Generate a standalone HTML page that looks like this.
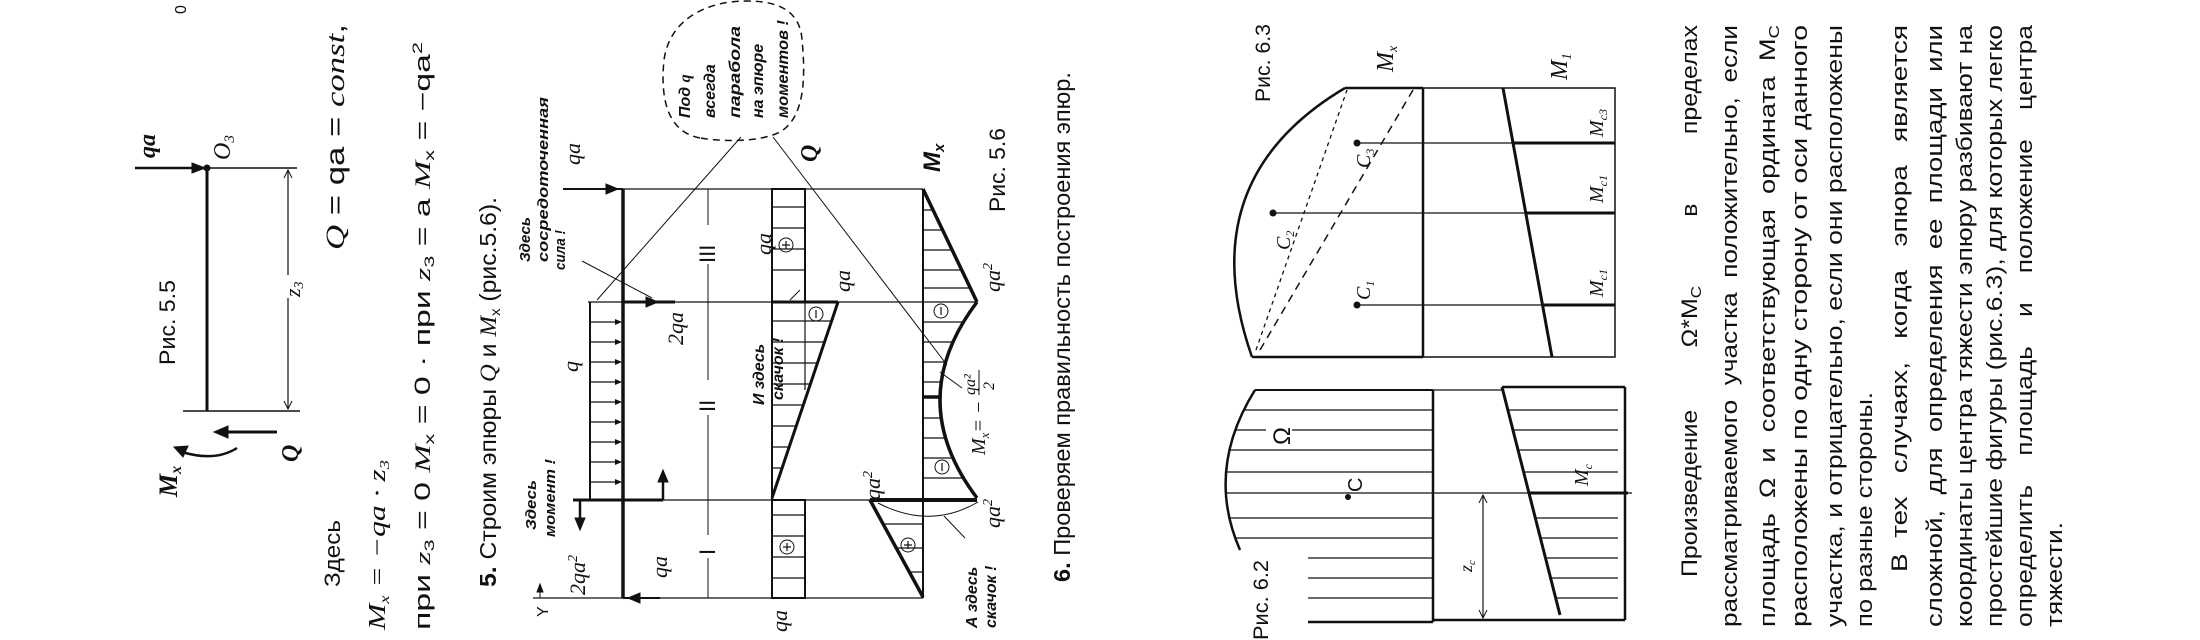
<!DOCTYPE html>
<html><head><meta charset="utf-8"><style>
html,body{margin:0;padding:0;background:#fff;}
svg{display:block;}
text{font-family:"Liberation Sans",sans-serif;fill:#111;}
.s{font-family:"Liberation Serif",serif;font-style:italic;}
.b{font-family:"Liberation Sans",sans-serif;font-weight:bold;font-style:italic;}
</style></head><body>
<svg width="2200" height="640" viewBox="0 0 2200 640" xmlns="http://www.w3.org/2000/svg">
<defs>
<clipPath id="q3"><rect x="772" y="189" width="33" height="113"/></clipPath>
<clipPath id="q2"><polygon points="772,302 838,302 772,498"/></clipPath>
<clipPath id="q1"><rect x="772" y="500" width="33" height="98"/></clipPath>
<clipPath id="m3"><polygon points="923,189 977,302 923,302"/></clipPath>
<clipPath id="m2"><path d="M923,302 L977,302 Q903,400 977,498 L923,498 Z"/></clipPath>
<clipPath id="m1"><polygon points="870,500 923,500 923,597"/></clipPath>
<clipPath id="f2a"><path d="M1255,390 Q1205,470 1240,550 L1308,550 L1308,622 L1433,622 L1433,390 Z"/></clipPath>
<clipPath id="f2b"><polygon points="1502,387 1625,387 1625,620 1560,620"/></clipPath>
</defs>
<g stroke="#111" fill="none">
<line x1="135" y1="168" x2="205" y2="168" stroke-width="2.5"/>
<polygon points="205,168 192,163 192,173" fill="#111"/>
<circle cx="207" cy="168" r="3" fill="#111"/>
<line x1="207" y1="168" x2="207" y2="411" stroke-width="3"/>
<line x1="207" y1="168" x2="297" y2="168" stroke-width="1.5"/>
<line x1="183" y1="411" x2="300" y2="411" stroke-width="1.5"/>
<line x1="288" y1="170" x2="288" y2="275" stroke-width="1.2"/>
<line x1="288" y1="298" x2="288" y2="409" stroke-width="1.2"/>
<polyline points="284,178 288,170 292,178"/><polyline points="284,401 288,409 292,401"/>
<line x1="217" y1="432" x2="277" y2="432" stroke-width="3"/>
<polygon points="214,432 228,426 228,438" fill="#111"/>
<path d="M237,448 Q215,462 182,452" stroke-width="2.5"/>
<polygon points="174,447 188,446 183,457" fill="#111"/>
<line x1="563" y1="189" x2="923" y2="189" stroke-width="1.2"/>
<line x1="588" y1="302" x2="977" y2="302" stroke-width="1.2"/>
<line x1="573" y1="500" x2="977" y2="500" stroke-width="1.2"/>
<line x1="533" y1="598" x2="923" y2="598" stroke-width="1.2"/>
<line x1="540" y1="598" x2="540" y2="588" /><polygon points="540,584 537,592 543,592" fill="#111"/>
<line x1="623" y1="189" x2="623" y2="598" stroke-width="3.5"/>
<line x1="563" y1="189" x2="623" y2="189" stroke-width="2"/>
<polygon points="618,189 606,184 606,194" fill="#111"/>
<line x1="623" y1="598" x2="660" y2="598" stroke-width="2"/>
<polygon points="628,598 640,593 640,603" fill="#111"/>
<line x1="623" y1="302" x2="675" y2="302" stroke-width="3"/>
<polygon points="658,302 646,297 646,307" fill="#111"/>
<line x1="573" y1="500" x2="663" y2="500" stroke-width="3"/>
<line x1="580" y1="500" x2="580" y2="520" stroke-width="2.5"/><polygon points="580,530 575,518 585,518" fill="#111"/>
<line x1="663" y1="500" x2="663" y2="480" stroke-width="2.5"/><polygon points="663,470 658,482 668,482" fill="#111"/>
<line x1="590" y1="302" x2="590" y2="500" stroke-width="2"/>
<g stroke-width="1.3">
<line x1="590" y1="322" x2="620" y2="322"/><line x1="590" y1="342" x2="620" y2="342"/><line x1="590" y1="362" x2="620" y2="362"/><line x1="590" y1="382" x2="620" y2="382"/><line x1="590" y1="402" x2="620" y2="402"/><line x1="590" y1="422" x2="620" y2="422"/><line x1="590" y1="442" x2="620" y2="442"/><line x1="590" y1="462" x2="620" y2="462"/><line x1="590" y1="482" x2="620" y2="482"/>
</g>
<g fill="#111" stroke="none">
<polygon points="622,322 615,319 615,325"/><polygon points="622,342 615,339 615,345"/><polygon points="622,362 615,359 615,365"/><polygon points="622,382 615,379 615,385"/><polygon points="622,402 615,399 615,405"/><polygon points="622,422 615,419 615,425"/><polygon points="622,442 615,439 615,445"/><polygon points="622,462 615,459 615,465"/><polygon points="622,482 615,479 615,485"/>
</g>
<line x1="708" y1="189" x2="708" y2="225"/><line x1="708" y1="264" x2="708" y2="380"/><line x1="708" y1="415" x2="708" y2="535"/><line x1="708" y1="558" x2="708" y2="598"/>
<line x1="703" y1="302" x2="713" y2="302"/><line x1="703" y1="500" x2="713" y2="500"/>
<line x1="772" y1="189" x2="772" y2="598" stroke-width="2"/>
<rect x="772" y="189" width="33" height="113" stroke-width="2"/>
<rect x="772" y="500" width="33" height="98" stroke-width="2"/>
<line x1="772" y1="302" x2="838" y2="302" stroke-width="3"/>
<line x1="838" y1="302" x2="772" y2="498" stroke-width="3"/>
<g stroke-width="1.2" clip-path="url(#q3)"><line x1="772" y1="207" x2="805" y2="207"/><line x1="772" y1="228" x2="805" y2="228"/><line x1="772" y1="249" x2="805" y2="249"/><line x1="772" y1="270" x2="805" y2="270"/></g>
<g stroke-width="1.2" clip-path="url(#q2)"><line x1="772" y1="321" x2="840" y2="321"/><line x1="772" y1="342" x2="840" y2="342"/><line x1="772" y1="363" x2="840" y2="363"/><line x1="772" y1="384" x2="840" y2="384"/><line x1="772" y1="405" x2="840" y2="405"/><line x1="772" y1="426" x2="840" y2="426"/><line x1="772" y1="447" x2="840" y2="447"/><line x1="772" y1="468" x2="840" y2="468"/></g>
<line x1="805" y1="302" x2="805" y2="390" stroke-width="1.2" clip-path="url(#q2)"/>
<g stroke-width="1.2" clip-path="url(#q1)"><line x1="772" y1="515" x2="805" y2="515"/><line x1="772" y1="536" x2="805" y2="536"/><line x1="772" y1="557" x2="805" y2="557"/><line x1="772" y1="578" x2="805" y2="578"/></g>
<circle cx="786" cy="245" r="7"/><circle cx="816" cy="314" r="7"/><circle cx="787" cy="547" r="7"/>
<line x1="923" y1="189" x2="923" y2="598" stroke-width="2"/>
<line x1="923" y1="189" x2="977" y2="302" stroke-width="3.5"/>
<path d="M977,302 Q903,400 977,498" stroke-width="3.5"/>
<line x1="923" y1="397" x2="940" y2="397" stroke-width="3.5"/>
<line x1="870" y1="500" x2="977" y2="500" stroke-width="4"/>
<line x1="870" y1="500" x2="923" y2="597" stroke-width="3.5"/>
<g stroke-width="1.2" clip-path="url(#m3)"><line x1="923" y1="210" x2="980" y2="210"/><line x1="923" y1="230" x2="980" y2="230"/><line x1="923" y1="250" x2="980" y2="250"/><line x1="923" y1="270" x2="980" y2="270"/><line x1="923" y1="288" x2="980" y2="288"/></g>
<g stroke-width="1.2" clip-path="url(#m2)"><line x1="923" y1="322" x2="980" y2="322"/><line x1="923" y1="342" x2="980" y2="342"/><line x1="923" y1="362" x2="980" y2="362"/><line x1="923" y1="382" x2="980" y2="382"/><line x1="923" y1="418" x2="980" y2="418"/><line x1="923" y1="438" x2="980" y2="438"/><line x1="923" y1="458" x2="980" y2="458"/><line x1="923" y1="478" x2="980" y2="478"/></g>
<g stroke-width="1.2" clip-path="url(#m1)"><line x1="870" y1="524" x2="923" y2="524"/><line x1="870" y1="548" x2="923" y2="548"/><line x1="870" y1="572" x2="923" y2="572"/></g>
<circle cx="941" cy="311" r="7"/><circle cx="942" cy="467" r="7"/><circle cx="908" cy="545" r="7"/>
<path d="M878,503 Q930,530 978,502" stroke-width="1"/>
<line x1="741" y1="137" x2="597" y2="300" stroke-width="1"/>
<line x1="773" y1="137" x2="947" y2="365" stroke-width="1"/>
<line x1="582" y1="261" x2="652" y2="298" stroke-width="1"/>
<line x1="940" y1="372" x2="962" y2="388" stroke-width="1"/>
<line x1="944" y1="516" x2="965" y2="538" stroke-width="1"/>
<line x1="790" y1="300" x2="800" y2="290" stroke-width="1"/>
<path d="M700,138 C668,132 660,100 664,60 C668,30 690,8 730,2 C770,-2 800,6 802,40 C806,80 804,118 780,132 C760,142 725,142 700,138 Z" stroke-width="1.5" stroke-dasharray="7,5"/>
<path d="M1252,357 Q1190,180 1345,88" stroke-width="2.5"/>
<line x1="1345" y1="88" x2="1423" y2="88" stroke-width="2.5"/>
<line x1="1252" y1="357" x2="1423" y2="357" stroke-width="2.5"/>
<line x1="1423" y1="88" x2="1423" y2="357" stroke-width="2.5"/>
<line x1="1256" y1="350" x2="1347" y2="90" stroke-width="1.3" stroke-dasharray="4,4"/>
<line x1="1260" y1="350" x2="1413" y2="90" stroke-width="1.5" stroke-dasharray="8,6"/>
<rect x="1423" y="88" width="192" height="269" stroke-width="1.5"/>
<line x1="1503" y1="88" x2="1552" y2="357" stroke-width="3"/>
<line x1="1357" y1="143" x2="1615" y2="143" stroke-width="1.2"/>
<line x1="1273" y1="213" x2="1615" y2="213" stroke-width="1.2"/>
<line x1="1357" y1="305" x2="1615" y2="305" stroke-width="1.2"/>
<line x1="1513" y1="143" x2="1615" y2="143" stroke-width="3"/>
<line x1="1526" y1="213" x2="1615" y2="213" stroke-width="3"/>
<line x1="1542" y1="305" x2="1615" y2="305" stroke-width="3"/>
<path d="M1255,390 Q1205,470 1240,550" stroke-width="2.5"/>
<line x1="1255" y1="390" x2="1433" y2="390" stroke-width="2"/>
<line x1="1308" y1="622" x2="1433" y2="622" stroke-width="2.5"/>
<line x1="1433" y1="390" x2="1433" y2="622" stroke-width="2.5"/>
<g stroke-width="1.3" clip-path="url(#f2a)"><line x1="1200" y1="410" x2="1433" y2="410"/><line x1="1200" y1="430" x2="1433" y2="430"/><line x1="1200" y1="450" x2="1433" y2="450"/><line x1="1200" y1="472" x2="1433" y2="472"/><line x1="1200" y1="493" x2="1433" y2="493"/><line x1="1200" y1="518" x2="1433" y2="518"/><line x1="1200" y1="538" x2="1433" y2="538"/><line x1="1200" y1="558" x2="1433" y2="558"/><line x1="1200" y1="578" x2="1433" y2="578"/><line x1="1200" y1="598" x2="1433" y2="598"/></g>
<rect x="1266" y="426" width="26" height="20" fill="#fff" stroke="none"/>
<line x1="1502" y1="387" x2="1625" y2="387" stroke-width="2.5"/>
<line x1="1625" y1="387" x2="1625" y2="620" stroke-width="2.5"/>
<line x1="1433" y1="620" x2="1625" y2="620" stroke-width="2.5"/>
<line x1="1433" y1="390" x2="1502" y2="390" stroke-width="1.2"/>
<line x1="1502" y1="387" x2="1560" y2="615" stroke-width="3"/>
<g stroke-width="1.3" clip-path="url(#f2b)"><line x1="1500" y1="410" x2="1618" y2="410"/><line x1="1500" y1="430" x2="1618" y2="430"/><line x1="1500" y1="450" x2="1618" y2="450"/><line x1="1500" y1="472" x2="1618" y2="472"/><line x1="1500" y1="518" x2="1618" y2="518"/><line x1="1500" y1="538" x2="1618" y2="538"/><line x1="1500" y1="558" x2="1618" y2="558"/><line x1="1500" y1="578" x2="1618" y2="578"/><line x1="1500" y1="598" x2="1618" y2="598"/></g>
<line x1="1433" y1="493" x2="1632" y2="493" stroke-width="1.2"/>
<line x1="1528" y1="493" x2="1628" y2="493" stroke-width="3"/>
<line x1="1483" y1="495" x2="1483" y2="618" stroke-width="1.2"/>
<polyline points="1479,503 1483,495 1487,503"/><polyline points="1479,610 1483,618 1487,610"/>
</g>
<g fill="#111">
<circle cx="1357" cy="143" r="3.5"/><circle cx="1273" cy="213" r="3.5"/><circle cx="1357" cy="305" r="3.5"/><circle cx="1348" cy="497" r="3"/>
</g>
<g stroke="#111" stroke-width="1.2">
<line x1="782" y1="245" x2="790" y2="245"/><line x1="786" y1="241" x2="786" y2="249"/>
<line x1="783" y1="547" x2="791" y2="547"/><line x1="787" y1="543" x2="787" y2="551"/>
<line x1="904" y1="545" x2="912" y2="545"/><line x1="908" y1="541" x2="908" y2="549"/>
<line x1="816" y1="310" x2="816" y2="318"/><line x1="941" y1="307" x2="941" y2="315"/><line x1="942" y1="463" x2="942" y2="471"/>
</g>
<g>
<text transform="translate(186,14) rotate(-90)" font-size="16">0</text>
<text class="s" transform="translate(155,158) rotate(-90)" font-size="24" font-weight="bold">qa</text>
<text class="s" transform="translate(230,160) rotate(-90)" font-size="24">O<tspan font-size="15" dy="4">3</tspan></text>
<text transform="translate(175,365) rotate(-90)" font-size="22" textLength="85" lengthAdjust="spacingAndGlyphs">Рис. 5.5</text>
<text class="s" transform="translate(300,297) rotate(-90)" font-size="22">z<tspan font-size="14" dy="3">3</tspan></text>
<text class="s" transform="translate(298,462) rotate(-90)" font-size="24" font-weight="bold">Q</text>
<text class="s" transform="translate(177,497) rotate(-90)" font-size="26" font-weight="bold">M<tspan font-size="16" dy="4">x</tspan></text>
<text transform="translate(344,250) rotate(-90)" font-size="26" textLength="226" lengthAdjust="spacingAndGlyphs"><tspan class="s">Q</tspan>  =  qa  =  <tspan class="s">const</tspan>,</text>
<text transform="translate(340,587) rotate(-90)" font-size="22" textLength="67" lengthAdjust="spacingAndGlyphs">Здесь</text>
<text class="s" transform="translate(385,630) rotate(-90)" font-size="24" textLength="170" lengthAdjust="spacingAndGlyphs">M<tspan font-size="14" dy="4">x</tspan><tspan dy="-4"> = −qa · z</tspan><tspan font-size="14" dy="4">3</tspan></text>
<text transform="translate(430,630) rotate(-90)" font-size="22" textLength="588" lengthAdjust="spacingAndGlyphs">при  <tspan class="s">z</tspan><tspan font-size="14" dy="4">3</tspan><tspan dy="-4"> = 0    </tspan><tspan class="s">M</tspan><tspan font-size="14" dy="4">x</tspan><tspan dy="-4"> = 0 · при  </tspan><tspan class="s">z</tspan><tspan font-size="14" dy="4">3</tspan><tspan dy="-4"> = a    </tspan><tspan class="s">M</tspan><tspan font-size="14" dy="4">x</tspan><tspan dy="-4"> = −qa</tspan><tspan font-size="14" dy="-8">2</tspan></text>
<text transform="translate(496,587) rotate(-90)" font-size="23" textLength="390" lengthAdjust="spacingAndGlyphs"><tspan font-weight="bold">5.</tspan> Строим эпюры <tspan class="s">Q</tspan> и <tspan class="s">M</tspan><tspan font-size="14" dy="4">x</tspan><tspan dy="-4"> (рис.5.6).</tspan></text>
<text class="b" transform="translate(536,530) rotate(-90)" font-size="15" textLength="50" lengthAdjust="spacingAndGlyphs">Здесь</text>
<text class="b" transform="translate(555,537) rotate(-90)" font-size="15" textLength="78" lengthAdjust="spacingAndGlyphs">момент !</text>
<text class="b" transform="translate(530,262) rotate(-90)" font-size="15" textLength="45" lengthAdjust="spacingAndGlyphs">Здесь</text>
<text class="b" transform="translate(548,262) rotate(-90)" font-size="15" textLength="165" lengthAdjust="spacingAndGlyphs">сосредоточенная</text>
<text class="b" transform="translate(565,270) rotate(-90)" font-size="15" textLength="40" lengthAdjust="spacingAndGlyphs">сила !</text>
<text transform="translate(548,617) rotate(-90)" font-size="16">Y</text>
<text class="s" transform="translate(580,165) rotate(-90)" font-size="22">qa</text>
<text class="s" transform="translate(578,372) rotate(-90)" font-size="22">q</text>
<text class="s" transform="translate(585,595) rotate(-90)" font-size="22">2qa<tspan font-size="14" dy="-8">2</tspan></text>
<text class="s" transform="translate(683,345) rotate(-90)" font-size="22">2qa</text>
<text class="s" transform="translate(667,578) rotate(-90)" font-size="22">qa</text>
<text transform="translate(715,263) rotate(-90)" font-size="22" font-family="Liberation Serif">III</text>
<text transform="translate(715,412) rotate(-90)" font-size="22" font-family="Liberation Serif">II</text>
<text transform="translate(715,555) rotate(-90)" font-size="22" font-family="Liberation Serif">I</text>
<text class="b" transform="translate(690,118) rotate(-90)" font-size="16">Под <tspan class="s">q</tspan></text>
<text class="b" transform="translate(715,118) rotate(-90)" font-size="16">всегда</text>
<text class="b" transform="translate(740,118) rotate(-90)" font-size="16" textLength="92" lengthAdjust="spacingAndGlyphs">парабола</text>
<text class="b" transform="translate(763,118) rotate(-90)" font-size="16">на эпюре</text>
<text class="b" transform="translate(788,118) rotate(-90)" font-size="16" textLength="98" lengthAdjust="spacingAndGlyphs">моментов !</text>
<text class="s" transform="translate(817,162) rotate(-90)" font-size="24" font-weight="bold">Q</text>
<text class="s" transform="translate(771,255) rotate(-90)" font-size="22">qa</text>
<text class="s" transform="translate(850,292) rotate(-90)" font-size="22">qa</text>
<text class="s" transform="translate(787,632) rotate(-90)" font-size="22">qa</text>
<text class="b" transform="translate(764,405) rotate(-90)" font-size="16">И здесь</text>
<text class="b" transform="translate(783,400) rotate(-90)" font-size="16">скачок !</text>
<text class="b" transform="translate(940,172) rotate(-90)" font-size="24">M<tspan font-size="15" dy="4">x</tspan></text>
<text class="s" transform="translate(1000,292) rotate(-90)" font-size="22">qa<tspan font-size="14" dy="-8">2</tspan></text>
<text class="s" transform="translate(1000,528) rotate(-90)" font-size="22">qa<tspan font-size="14" dy="-8">2</tspan></text>
<text class="s" transform="translate(880,500) rotate(-90)" font-size="22">qa<tspan font-size="14" dy="-8">2</tspan></text>
<text class="s" transform="translate(985,455) rotate(-90)" font-size="20">M<tspan font-size="13" dy="4">x</tspan><tspan dy="-4">= −</tspan></text>
<text class="s" transform="translate(975,395) rotate(-90)" font-size="16">qa²</text>
<line x1="979" y1="395" x2="979" y2="370" stroke="#111"/>
<text class="s" transform="translate(994,390) rotate(-90)" font-size="16">2</text>
<text class="b" transform="translate(977,628) rotate(-90)" font-size="16">А здесь</text>
<text class="b" transform="translate(996,628) rotate(-90)" font-size="16">скачок !</text>
<text transform="translate(1005,212) rotate(-90)" font-size="22" textLength="84" lengthAdjust="spacingAndGlyphs">Рис. 5.6</text>
<text transform="translate(1070,582) rotate(-90)" font-size="23" textLength="510" lengthAdjust="spacingAndGlyphs"><tspan font-weight="bold">6.</tspan> Проверяем правильность построения эпюр.</text>
<text transform="translate(1270,102) rotate(-90)" font-size="21" textLength="78" lengthAdjust="spacingAndGlyphs">Рис. 6.3</text>
<text class="s" transform="translate(1393,72) rotate(-90)" font-size="24">M<tspan font-size="14" dy="4">x</tspan></text>
<text class="s" transform="translate(1567,80) rotate(-90)" font-size="24">M<tspan font-size="14" dy="4">1</tspan></text>
<text class="s" transform="translate(1603,137) rotate(-90)" font-size="20">M<tspan font-size="12" dy="4">c3</tspan></text>
<text class="s" transform="translate(1603,203) rotate(-90)" font-size="20">M<tspan font-size="12" dy="4">c1</tspan></text>
<text class="s" transform="translate(1603,297) rotate(-90)" font-size="20">M<tspan font-size="12" dy="4">c1</tspan></text>
<text class="s" transform="translate(1370,168) rotate(-90)" font-size="20">C<tspan font-size="12" dy="4">3</tspan></text>
<text class="s" transform="translate(1290,250) rotate(-90)" font-size="20">C<tspan font-size="12" dy="4">2</tspan></text>
<text class="s" transform="translate(1370,300) rotate(-90)" font-size="20">C<tspan font-size="12" dy="4">1</tspan></text>
<text transform="translate(1268,640) rotate(-90)" font-size="21" textLength="80" lengthAdjust="spacingAndGlyphs">Рис. 6.2</text>
<text transform="translate(1290,445) rotate(-90)" font-size="24">Ω</text>
<text transform="translate(1362,492) rotate(-90)" font-size="20">C</text>
<text class="s" transform="translate(1472,572) rotate(-90)" font-size="18">z<tspan font-size="11" dy="3">c</tspan></text>
<text class="s" transform="translate(1588,486) rotate(-90)" font-size="20">M<tspan font-size="12" dy="4">c</tspan></text>
<g font-size="22">
<text transform="translate(1697,577) rotate(-90)" textLength="552" lengthAdjust="spacingAndGlyphs" xml:space="preserve">Произведение         Ω*M<tspan font-size="15" dy="4">C</tspan><tspan dy="-4">          в          пределах</tspan></text>
<text transform="translate(1737,627) rotate(-90)" textLength="602" lengthAdjust="spacingAndGlyphs" xml:space="preserve">рассматриваемого  участка  положительно,  если</text>
<text transform="translate(1775,627) rotate(-90)" textLength="602" lengthAdjust="spacingAndGlyphs" xml:space="preserve">площадь  Ω  и  соответствующая  ордината  M<tspan font-size="15" dy="4">C</tspan></text>
<text transform="translate(1807,627) rotate(-90)" textLength="602" lengthAdjust="spacingAndGlyphs">расположены по одну сторону от оси данного</text>
<text transform="translate(1842,627) rotate(-90)" textLength="602" lengthAdjust="spacingAndGlyphs">участка, и отрицательно, если они расположены</text>
<text transform="translate(1872,627) rotate(-90)" textLength="235" lengthAdjust="spacingAndGlyphs">по разные стороны.</text>
<text transform="translate(1907,572) rotate(-90)" textLength="547" lengthAdjust="spacingAndGlyphs" xml:space="preserve">В  тех   случаях,   когда   эпюра   является</text>
<text transform="translate(1942,627) rotate(-90)" textLength="602" lengthAdjust="spacingAndGlyphs" xml:space="preserve">сложной,  для  определения  ее  площади  или</text>
<text transform="translate(1972,627) rotate(-90)" textLength="602" lengthAdjust="spacingAndGlyphs">координаты центра тяжести эпюру разбивают на</text>
<text transform="translate(2002,627) rotate(-90)" textLength="602" lengthAdjust="spacingAndGlyphs">простейшие фигуры (рис.6.3), для которых легко</text>
<text transform="translate(2032,627) rotate(-90)" textLength="602" lengthAdjust="spacingAndGlyphs" xml:space="preserve">определить    площадь    и    положение    центра</text>
<text transform="translate(2062,627) rotate(-90)" textLength="105" lengthAdjust="spacingAndGlyphs">тяжести.</text>
</g>
</g>
</svg>
</body></html>
